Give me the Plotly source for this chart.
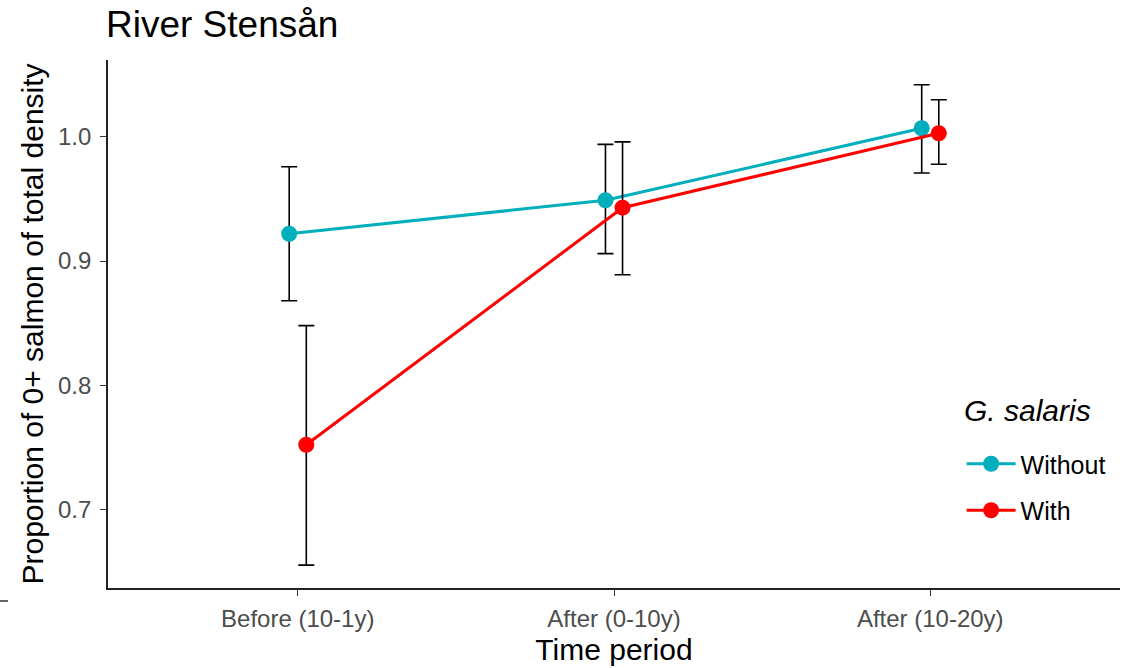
import plotly.graph_objects as go

# Time periods on the x axis
periods = ["Before (10-1y)", "After (0-10y)", "After (10-20y)"]

# Proportion of 0+ salmon of total density, with lower/upper confidence limits
without_mean = [0.922, 0.949, 1.007]
without_low = [0.868, 0.906, 0.971]
without_high = [0.976, 0.994, 1.042]

with_mean = [0.752, 0.943, 1.003]
with_low = [0.655, 0.889, 0.978]
with_high = [0.848, 0.996, 1.030]

y_ticks = [0.7, 0.8, 0.9, 1.0]

TEAL = "#00AFBB"
RED = "#FF0000"
DODGE = 0.027
FONT = "Liberation Sans, Arial, sans-serif"

fig = go.Figure()


def add_group(name, mean, low, high, color, offset, group):
    xs = [i + offset for i in range(len(periods))]
    fig.add_trace(go.Scatter(
        x=xs, y=mean, name=name, mode="lines+markers",
        legendgroup=group,
        line=dict(color=color, width=3),
        marker=dict(color=color, size=16),
        error_y=dict(
            type="data", symmetric=False,
            array=[h - m for h, m in zip(high, mean)],
            arrayminus=[m - l for m, l in zip(mean, low)],
            color="black", thickness=1.6, width=8,
        ),
    ))


add_group("Without", without_mean, without_low, without_high, TEAL, -DODGE, "a")
add_group("With", with_mean, with_low, with_high, RED, DODGE, "b")

axis_common = dict(
    showline=True, linecolor="#222222", linewidth=1.6,
    ticks="outside", ticklen=6, tickcolor="#333333", tickwidth=1.2,
    showgrid=False, zeroline=False,
    tickfont=dict(family=FONT, size=24, color="#4D4D4D"),
)

fig.update_layout(
    width=1122, height=668,
    margin=dict(l=108, r=2, t=60, b=80),
    paper_bgcolor="white", plot_bgcolor="white",
    font=dict(family=FONT, color="black"),
    title=dict(
        text="River Stensån", x=106 / 1122, xanchor="left",
        y=1 - 24 / 668, yanchor="middle",
        font=dict(family=FONT, size=37, color="black"),
    ),
    xaxis=dict(
        axis_common, range=[-0.6, 2.6], ticklabelstandoff=2,
        tickvals=list(range(len(periods))), ticktext=periods,
        title=dict(text="Time period", font=dict(family=FONT, size=30, color="black"), standoff=8),
    ),
    yaxis=dict(
        axis_common, range=[0.6366, 1.062], ticklabelstandoff=4,
        tickvals=y_ticks, ticktext=[f"{v:.1f}" for v in y_ticks],
        title=dict(text="Proportion of 0+ salmon of total density",
                   font=dict(family=FONT, size=30, color="black"), standoff=6),
    ),
    legend=dict(
        x=0.8435, xanchor="left", y=0.2784, yanchor="top",
        font=dict(family=FONT, size=25, color="black"),
        tracegroupgap=11, traceorder="grouped", itemwidth=49,
        bgcolor="rgba(0,0,0,0)",
    ),
    annotations=[dict(
        text="<i>G. salaris</i>", xref="paper", yref="paper",
        x=(962 - 108) / 1012, xanchor="left",
        y=(588 - 410) / 528, yanchor="middle",
        showarrow=False, font=dict(family=FONT, size=30, color="black"),
    )],
    shapes=[dict(type="line", xref="paper", yref="paper",
                 x0=-0.1067, x1=-0.0988, y0=-0.0246, y1=-0.0246,
                 line=dict(color="#333333", width=1.5))],
)

fig.write_html("out.html")
